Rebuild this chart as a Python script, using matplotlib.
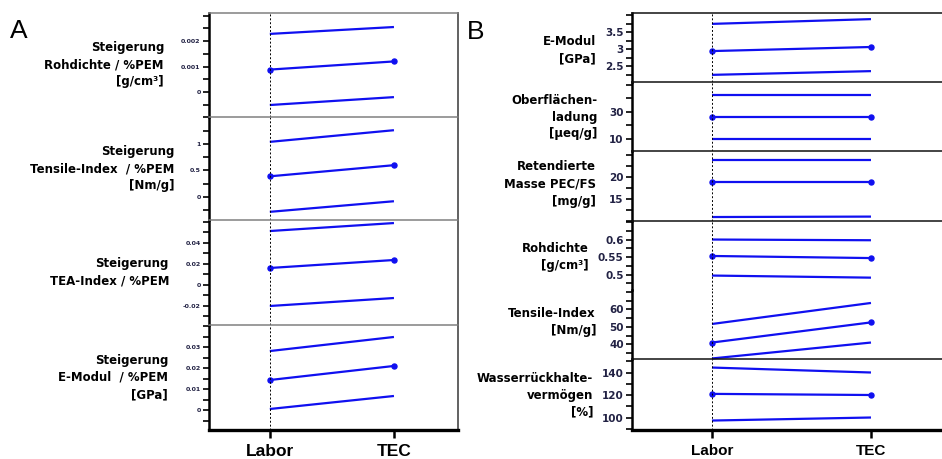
import matplotlib
matplotlib.use("Agg")
import matplotlib.pyplot as plt
from matplotlib.ticker import FixedLocator, AutoMinorLocator

plt.rcParams['font.family'] = ['DejaVu Sans']

W, H = 942, 459

categories = ["Labor", "TEC"]

# Panel A: slopes per %PEM (upper bound, mean, lower bound) for Labor and TEC
a_rohdichte_upper = [0.00228, 0.00255]
a_rohdichte_mean = [0.00088, 0.00120]
a_rohdichte_lower = [-0.00051, -0.00020]

a_tensile_upper = [1.04, 1.26]
a_tensile_mean = [0.39, 0.60]
a_tensile_lower = [-0.28, -0.08]

a_tea_upper = [0.0514, 0.0590]
a_tea_mean = [0.0162, 0.0238]
a_tea_lower = [-0.0200, -0.0124]

a_emodul_upper = [0.0281, 0.0348]
a_emodul_mean = [0.0143, 0.0210]
a_emodul_lower = [0.0005, 0.0067]

# Panel B: absolute properties (upper bound, mean, lower bound)
b_emodul_upper = [3.74, 3.88]
b_emodul_mean = [2.94, 3.06]
b_emodul_lower = [2.24, 2.35]

b_ladung_upper = [42.6, 42.6]
b_ladung_mean = [26.3, 26.3]
b_ladung_lower = [10.0, 10.0]

b_masse_upper = [23.9, 23.9]
b_masse_mean = [18.9, 18.9]
b_masse_lower = [10.9, 11.0]

b_rohdichte_upper = [0.600, 0.598]
b_rohdichte_mean = [0.553, 0.547]
b_rohdichte_lower = [0.497, 0.491]

b_tensile_upper = [51.7, 63.7]
b_tensile_mean = [41.1, 52.6]
b_tensile_lower = [32.0, 41.1]

b_wrv_upper = [144.4, 140.0]
b_wrv_mean = [121.0, 120.0]
b_wrv_lower = [97.3, 100.0]

# tick labels
a_rohdichte_ticks = [0, 0.001, 0.002]
a_rohdichte_ticklabels = ["0", "0.001", "0.002"]
a_tensile_ticks = [0, 0.5, 1]
a_tensile_ticklabels = ["0", "0.5", "1"]
a_tea_ticks = [-0.02, 0, 0.02, 0.04]
a_tea_ticklabels = ["-0.02", "0", "0.02", "0.04"]
a_emodul_ticks = [0, 0.01, 0.02, 0.03]
a_emodul_ticklabels = ["0", "0.01", "0.02", "0.03"]

b_emodul_ticks = [2.5, 3, 3.5]
b_emodul_ticklabels = ["2.5", "3", "3.5"]
b_ladung_ticks = [10, 30]
b_ladung_ticklabels = ["10", "30"]
b_masse_ticks = [15, 20]
b_masse_ticklabels = ["15", "20"]
b_rohdichte_ticks = [0.5, 0.55, 0.6]
b_rohdichte_ticklabels = ["0.5", "0.55", "0.6"]
b_tensile_ticks = [40, 50, 60]
b_tensile_ticklabels = ["40", "50", "60"]
b_wrv_ticks = [100, 120, 140]
b_wrv_ticklabels = ["100", "120", "140"]

a_labels = [
    "Steigerung\nRohdichte / %PEM\n[g/cm³]",
    "Steigerung\nTensile-Index  / %PEM\n[Nm/g]",
    "Steigerung\nTEA-Index / %PEM",
    "Steigerung\nE-Modul  / %PEM\n[GPa]",
]
b_labels = [
    "E-Modul\n[GPa]",
    "Oberflächen-\nladung\n[µeq/g]",
    "Retendierte\nMasse PEC/FS\n[mg/g]",
    "Rohdichte\n[g/cm³]",
    "Tensile-Index\n[Nm/g]",
    "Wasserrückhalte-\nvermögen\n[%]",
]

BLUE = "#1010f0"


def rect(x0, y0, x1, y1):
    return [x0 / W, 1 - y1 / H, (x1 - x0) / W, (y1 - y0) / H]


def draw_panel(ax, upper, mean, lower, ylim, ticks, ticklabels, xlim,
               tick_fs, sep_color, xlabel_fs, show_top=True,
               show_bottom=False, right_color=None):
    x = [0, 1]
    ax.plot(x, upper, color=BLUE, lw=1.6, clip_on=False, solid_capstyle="butt")
    ax.plot(x, lower, color=BLUE, lw=1.6, clip_on=False, solid_capstyle="butt")
    ax.plot(x, mean, color=BLUE, lw=1.6, marker="o", ms=3.6, clip_on=False)
    ax.axvline(0, color="black", lw=0.7, ls=(0, (2, 2)))
    ax.set_xlim(*xlim)
    ax.set_ylim(*ylim)
    ax.yaxis.set_major_locator(FixedLocator(ticks))
    ax.set_yticklabels(ticklabels, fontsize=tick_fs, fontweight="bold",
                       color="#222244")
    ax.yaxis.set_minor_locator(AutoMinorLocator(2))
    ax.tick_params(axis="y", which="both", direction="out", length=4,
                   width=1.2, pad=2, color="black")
    ax.spines["left"].set_linewidth(1.8)
    ax.spines["left"].set_color("black")
    ax.spines["top"].set_visible(show_top)
    ax.spines["top"].set_color(sep_color)
    ax.spines["top"].set_linewidth(1.1)
    if right_color is None:
        ax.spines["right"].set_visible(False)
    else:
        ax.spines["right"].set_color(right_color)
        ax.spines["right"].set_linewidth(1.3)
    ax.set_xticks([0, 1])
    if show_bottom:
        ax.spines["bottom"].set_linewidth(2.4)
        ax.spines["bottom"].set_color("black")
        ax.set_xticklabels(categories, fontsize=xlabel_fs, fontweight="bold",
                           family=["Liberation Sans", "DejaVu Sans"])
        ax.tick_params(axis="x", direction="out", length=6, width=1.8,
                       pad=4)
    else:
        ax.spines["bottom"].set_visible(False)
        ax.tick_params(axis="x", length=0, labelbottom=False)
    ax.set_facecolor("none")


fig = plt.figure(figsize=(W / 100, H / 100), dpi=100)

# ---- Panel A ----
a_left, a_right = 209, 458
a_xlim = (-0.49, 1.516)
a_bounds = [13, 117, 220, 325, 430]
a_data = [
    (a_rohdichte_upper, a_rohdichte_mean, a_rohdichte_lower, (-0.00098, 0.0031),
     a_rohdichte_ticks, a_rohdichte_ticklabels),
    (a_tensile_upper, a_tensile_mean, a_tensile_lower, (-0.434, 1.509),
     a_tensile_ticks, a_tensile_ticklabels),
    (a_tea_upper, a_tea_mean, a_tea_lower, (-0.0381, 0.0619),
     a_tea_ticks, a_tea_ticklabels),
    (a_emodul_upper, a_emodul_mean, a_emodul_lower, (-0.0095, 0.0405),
     a_emodul_ticks, a_emodul_ticklabels),
]
a_label_x = [164, 174, 169, 168]
for i, (up, mn, lo, yl, tk, tl) in enumerate(a_data):
    ax = fig.add_axes(rect(a_left, a_bounds[i], a_right, a_bounds[i + 1]))
    draw_panel(ax, up, mn, lo, yl, tk, tl, a_xlim, 4.5, "#808080", 12.5,
               show_top=True, show_bottom=(i == 3), right_color="#555555")
    yc = 1 - (a_bounds[i] + a_bounds[i + 1]) / 2 / H
    fig.text(a_label_x[i] / W, yc, a_labels[i], ha="right", va="center",
             fontsize=8.5, fontweight="bold", linespacing=1.4)

# ---- Panel B ----
b_left, b_right = 632, 950
b_xlim = (-0.503, 1.497)
b_bounds = [13, 82, 151, 221, 290, 359, 430]
b_data = [
    (b_emodul_upper, b_emodul_mean, b_emodul_lower, (2.03, 4.06),
     b_emodul_ticks, b_emodul_ticklabels),
    (b_ladung_upper, b_ladung_mean, b_ladung_lower, (1.1, 52.2),
     b_ladung_ticks, b_ladung_ticklabels),
    (b_masse_upper, b_masse_mean, b_masse_lower, (10.0, 25.9),
     b_masse_ticks, b_masse_ticklabels),
    (b_rohdichte_upper, b_rohdichte_mean, b_rohdichte_lower, (0.4557, 0.653),
     b_rohdichte_ticks, b_rohdichte_ticklabels),
    (b_tensile_upper, b_tensile_mean, b_tensile_lower, (31.7, 71.1),
     b_tensile_ticks, b_tensile_ticklabels),
    (b_wrv_upper, b_wrv_mean, b_wrv_lower, (88.9, 152.0),
     b_wrv_ticks, b_wrv_ticklabels),
]
b_label_x = [596, 597, 596, 589, 596, 593]
b_label_y = [50, 117, 184, 257, 322, 395]
for i, (up, mn, lo, yl, tk, tl) in enumerate(b_data):
    ax = fig.add_axes(rect(b_left, b_bounds[i], b_right, b_bounds[i + 1]))
    draw_panel(ax, up, mn, lo, yl, tk, tl, b_xlim, 7.5, "#111111", 11,
               show_top=(i != 4), show_bottom=(i == 5), right_color=None)
    fig.text(b_label_x[i] / W, 1 - b_label_y[i] / H, b_labels[i], ha="right",
             va="center", fontsize=8.5, fontweight="bold", linespacing=1.4)

fig.text(10 / W, 1 - 31 / H, "A", fontsize=19, ha="left", va="center",
         family=["Liberation Sans", "DejaVu Sans"])
fig.text(467 / W, 1 - 32 / H, "B", fontsize=19, ha="left", va="center",
         family=["Liberation Sans", "DejaVu Sans"])

fig.savefig("out.png", dpi=100)
